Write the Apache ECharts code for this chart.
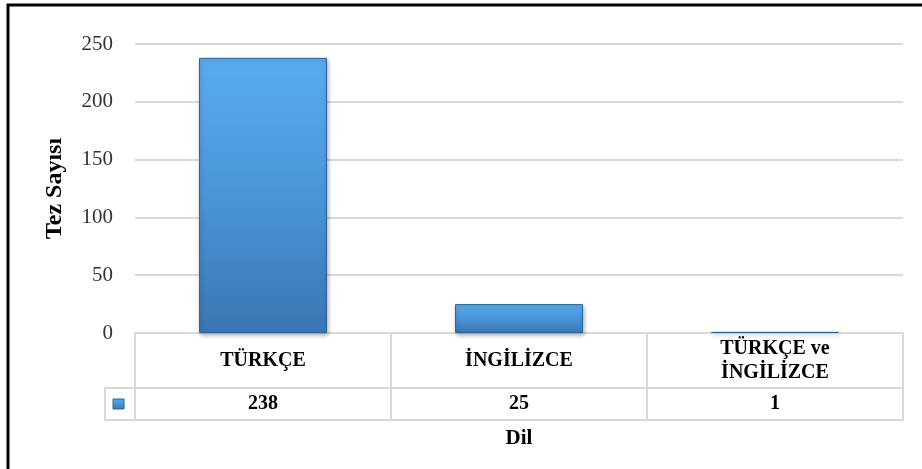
<!DOCTYPE html>
<html>
<head>
    <meta http-equiv="Content-Type" content="text/html; charset=UTF-8">
    <title>Tez Sayısı - Dil</title>
    <script type="text/javascript" src="https://cdn.jsdelivr.net/npm/echarts@6/dist/echarts.min.js"></script>
    <style>
        html, body { margin: 0; padding: 0; background: #fff; }
        #view { width: 922px; height: 469px; }
    </style>
</head>
<body>
<div id="view"></div>
</body>
<script type="text/javascript">

    // dil kategorileri ve tez sayilari
    var categories = ['TÜRKÇE', 'İNGİLİZCE', 'TÜRKÇE ve\nİNGİLİZCE'];
    var values = [238, 25, 1];
    var yTicks = [0, 50, 100, 150, 200, 250];

    var serif = '"Liberation Serif", "DejaVu Serif", serif';
    var lineGray = '#d9d9d9';

    var barFill = new echarts.graphic.LinearGradient(0, 0, 0, 1, [
        { offset: 0, color: '#58acf0' },
        { offset: 0.5, color: '#4a95d8' },
        { offset: 1, color: '#3a76b3' }
    ]);

    var myChart = echarts.init(document.getElementById('view'));

    // tablo hucreleri: kategori adi ust satirda, deger alt satirda
    function tableLabel(name, idx) {
        var parts = name.split('\n');
        if (parts.length > 1) {
            return '{n1|' + parts[0] + '}\n{n2|' + parts[1] + '}\n{v2|' + values[idx] + '}';
        }
        return '{n|' + name + '}\n{v|' + values[idx] + '}';
    }

    var cell = { fontFamily: serif, fontWeight: 'bold', fontSize: 20, color: '#000' };
    function cellStyle(lh) {
        return Object.assign({ lineHeight: lh }, cell);
    }

    var option = {
        animation: false,
        grid: {
            left: 135,
            right: 19,
            top: 44,
            bottom: 136
        },
        xAxis: {
            type: 'category',
            data: categories,
            name: 'Dil',
            nameLocation: 'middle',
            nameGap: 95,
            nameTextStyle: {
                fontFamily: serif,
                fontWeight: 'bold',
                fontSize: 21,
                color: '#000'
            },
            axisLine: { lineStyle: { color: lineGray, width: 2 } },
            axisTick: {
                show: true,
                inside: false,
                length: 87,
                lineStyle: { color: lineGray, width: 2 }
            },
            axisLabel: {
                interval: 0,
                margin: 0,
                formatter: tableLabel,
                fontFamily: serif,
                color: '#000',
                rich: {
                    n: cellStyle(55),
                    n1: cellStyle(31),
                    n2: cellStyle(17),
                    v: cellStyle(32),
                    v2: cellStyle(46)
                }
            }
        },
        yAxis: {
            type: 'value',
            min: yTicks[0],
            max: yTicks[yTicks.length - 1],
            interval: 50,
            name: 'Tez Sayısı',
            nameLocation: 'middle',
            nameGap: 68,
            nameTextStyle: {
                fontFamily: serif,
                fontWeight: 'bold',
                fontSize: 24,
                color: '#000'
            },
            axisLine: { show: false },
            axisTick: { show: false },
            axisLabel: {
                margin: 22,
                fontFamily: serif,
                fontSize: 21,
                color: '#333'
            },
            splitLine: { lineStyle: { color: lineGray, width: 2 } }
        },
        series: [{
            type: 'bar',
            data: values,
            barWidth: '50%',
            itemStyle: {
                color: barFill,
                borderColor: '#2c6399',
                borderWidth: 1,
                shadowColor: 'rgba(0,0,0,0.3)',
                shadowBlur: 4,
                shadowOffsetX: 1,
                shadowOffsetY: 2
            }
        }],
        graphic: [
            // dis cerceve
            {
                type: 'rect',
                shape: { x: 8, y: 5, width: 1000, height: 1000 },
                style: { fill: 'none', stroke: '#000', lineWidth: 3 },
                silent: true
            },
            // tablo yatay cizgileri ve lejant hucresi
            {
                type: 'line',
                shape: { x1: 104, y1: 388, x2: 904, y2: 388 },
                style: { stroke: lineGray, lineWidth: 2 }
            },
            {
                type: 'line',
                shape: { x1: 104, y1: 420, x2: 904, y2: 420 },
                style: { stroke: lineGray, lineWidth: 2 }
            },
            {
                type: 'line',
                shape: { x1: 105, y1: 387, x2: 105, y2: 421 },
                style: { stroke: lineGray, lineWidth: 2 }
            },
            {
                type: 'rect',
                shape: { x: 113, y: 399, width: 11, height: 10 },
                style: {
                    fill: barFill,
                    stroke: '#2c6399',
                    lineWidth: 1
                }
            }
        ]
    };

    myChart.setOption(option);
</script>
</html>
